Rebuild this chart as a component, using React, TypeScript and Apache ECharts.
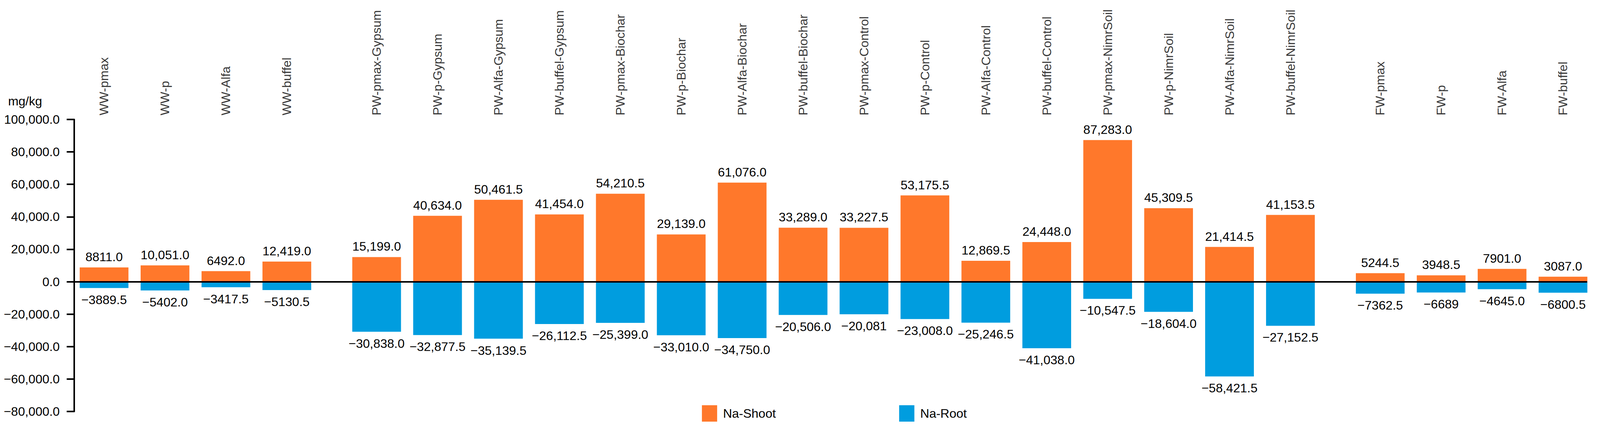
import React, { useEffect, useRef } from "react";
import * as echarts from "echarts";

const wwCategories = ["WW-pmax", "WW-p", "WW-Alfa", "WW-buffel"];
const pwCategories = [
  "PW-pmax-Gypsum", "PW-p-Gypsum", "PW-Alfa-Gypsum", "PW-buffel-Gypsum",
  "PW-pmax-Biochar", "PW-p-Biochar", "PW-Alfa-Biochar", "PW-buffel-Biochar",
  "PW-pmax-Control", "PW-p-Control", "PW-Alfa-Control", "PW-buffel-Control",
  "PW-pmax-NimrSoil", "PW-p-NimrSoil", "PW-Alfa-NimrSoil", "PW-buffel-NimrSoil",
];
const fwCategories = ["FW-pmax", "FW-p", "FW-Alfa", "FW-buffel"];
const groups = [wwCategories, pwCategories, fwCategories];

const naShoot = [
  8811, 10051, 6492, 12419,
  15199, 40634, 50461.5, 41454, 54210.5, 29139, 61076, 33289,
  33227.5, 53175.5, 12869.5, 24448, 87283, 45309.5, 21414.5, 41153.5,
  5244.5, 3948.5, 7901, 3087,
];
const naRoot = [
  -3889.5, -5402, -3417.5, -5130.5,
  -30838, -32877.5, -35139.5, -26112.5, -25399, -33010, -34750, -20506,
  -20081, -23008, -25246.5, -41038, -10547.5, -18604, -58421.5, -27152.5,
  -7362.5, -6689, -4645, -6800.5,
];
const shootLabels = [
  "8811.0", "10,051.0", "6492.0", "12,419.0",
  "15,199.0", "40,634.0", "50,461.5", "41,454.0", "54,210.5", "29,139.0", "61,076.0", "33,289.0",
  "33,227.5", "53,175.5", "12,869.5", "24,448.0", "87,283.0", "45,309.5", "21,414.5", "41,153.5",
  "5244.5", "3948.5", "7901.0", "3087.0",
];
const rootLabels = [
  "\u22123889.5", "\u22125402.0", "\u22123417.5", "\u22125130.5",
  "\u221230,838.0", "\u221232,877.5", "\u221235,139.5", "\u221226,112.5", "\u221225,399.0", "\u221233,010.0", "\u221234,750.0", "\u221220,506.0",
  "\u221220,081", "\u221223,008.0", "\u221225,246.5", "\u221241,038.0", "\u221210,547.5", "\u221218,604.0", "\u221258,421.5", "\u221227,152.5",
  "\u22127362.5", "\u22126689", "\u22124645.0", "\u22126800.5",
];
const yTicks = { min: -80000, max: 100000, interval: 20000 };
const unitLabel = "mg/kg";
const seriesNames = ["Na-Shoot", "Na-Root"];

// layout: extra space between treatment groups (in category units)
const GROUP_GAP = 0.474;
// design width the horizontal layout was measured at
const DESIGN_W = 4366;

const FONT = "'Liberation Sans', Arial, sans-serif";
const ORANGE = "#FF782B";
const BLUE = "#009DDF";

function fmtTick(v: number): string {
  const abs = Math.abs(v);
  const s = abs.toLocaleString("en-US", { minimumFractionDigits: 1, maximumFractionDigits: 1 });
  return (v < 0 ? "\u2212" : "") + s;
}

export default function App() {
  const ref = useRef<HTMLDivElement>(null);
  useEffect(() => {
    if (!ref.current) return;
    const chart = echarts.init(ref.current, undefined, { renderer: "svg" });
    const k = chart.getWidth() / DESIGN_W;

    const categories: string[] = [];
    const xPos: number[] = [];
    let idx = 0;
    groups.forEach((g, gi) => {
      g.forEach((c) => {
        categories.push(c);
        xPos.push(idx + gi * GROUP_GAP);
        idx++;
      });
    });

    const legendItemW = Math.round(42 * k);
    const legendTextPad = Math.round(11 * k);
    const shootTextW = 135;
    const legendLeft = 1910 * k;
    const legendSecondLeft = 2448 * k;
    const legendGap = legendSecondLeft - legendLeft - (legendItemW + 5 + legendTextPad + shootTextW);

    const option: any = {
      animation: false,
      textStyle: { fontFamily: FONT, color: "#000" },
      grid: {
        left: 202 * k,
        right: 35 * k,
        top: 306,
        bottom: 50,
        containLabel: false,
        outerBoundsMode: "none",
      },
      graphic: [
        {
          type: "text",
          left: 22 * k,
          top: 243,
          style: { text: unitLabel, fontSize: 32, fontFamily: FONT, fill: "#000" },
        },
      ],
      legend: {
        data: seriesNames,
        left: legendLeft,
        top: 1033,
        itemWidth: legendItemW,
        itemHeight: 42,
        itemGap: legendGap,
        icon: "rect",
        textStyle: { fontSize: 32, color: "#000", fontFamily: FONT, padding: [0, 0, 0, legendTextPad] },
      },
      xAxis: {
        type: "value",
        min: -0.4933,
        max: 24.345,
        show: false,
        splitLine: { show: false },
      },
      yAxis: {
        type: "value",
        min: yTicks.min,
        max: yTicks.max,
        interval: yTicks.interval,
        axisLine: { show: true, onZero: false, lineStyle: { color: "#000", width: 4 } },
        axisTick: { show: true, length: 20 * k, lineStyle: { color: "#000", width: 4 } },
        axisLabel: {
          margin: 39 * k,
          fontSize: 32,
          color: "#000",
          fontFamily: FONT,
          formatter: (v: number) => fmtTick(v),
        },
        splitLine: { show: false },
      },
      series: [
        {
          name: seriesNames[0],
          type: "bar",
          barWidth: 133 * k,
          barGap: "-100%",
          itemStyle: { color: ORANGE },
          data: xPos.map((x, i) => [x, naShoot[i]]),
          label: {
            show: true,
            position: "top",
            distance: 11,
            fontSize: 32,
            color: "#000",
            fontFamily: FONT,
            formatter: (p: any) => shootLabels[p.dataIndex],
          },
          markLine: {
            silent: true,
            symbol: ["none", "none"],
            label: { show: false },
            lineStyle: { color: "#000", width: 4, type: "solid" },
            data: [{ yAxis: 0 }],
          },
        },
        {
          name: seriesNames[1],
          type: "bar",
          barWidth: 133 * k,
          barGap: "-100%",
          itemStyle: { color: BLUE },
          data: xPos.map((x, i) => [x, naRoot[i]]),
          label: {
            show: true,
            position: "bottom",
            distance: 14,
            fontSize: 32,
            color: "#000",
            fontFamily: FONT,
            formatter: (p: any) => rootLabels[p.dataIndex],
          },
        },
        {
          name: "categories",
          type: "scatter",
          silent: true,
          symbolSize: 1,
          itemStyle: { color: "rgba(0,0,0,0)" },
          data: xPos.map((x) => [x, yTicks.max]),
          label: {
            show: true,
            position: "top",
            distance: 10,
            rotate: 90,
            align: "left",
            verticalAlign: "middle",
            fontSize: 32,
            color: "#000",
            fontFamily: FONT,
            formatter: (p: any) => categories[p.dataIndex],
          },
        },
      ],
    };
    chart.setOption(option);
    return () => chart.dispose();
  }, []);
  return (
    <div
      ref={ref}
      style={{ position: "absolute", left: 0, top: 0, width: "100vw", height: "1104px", background: "#fff" }}
    />
  );
}
